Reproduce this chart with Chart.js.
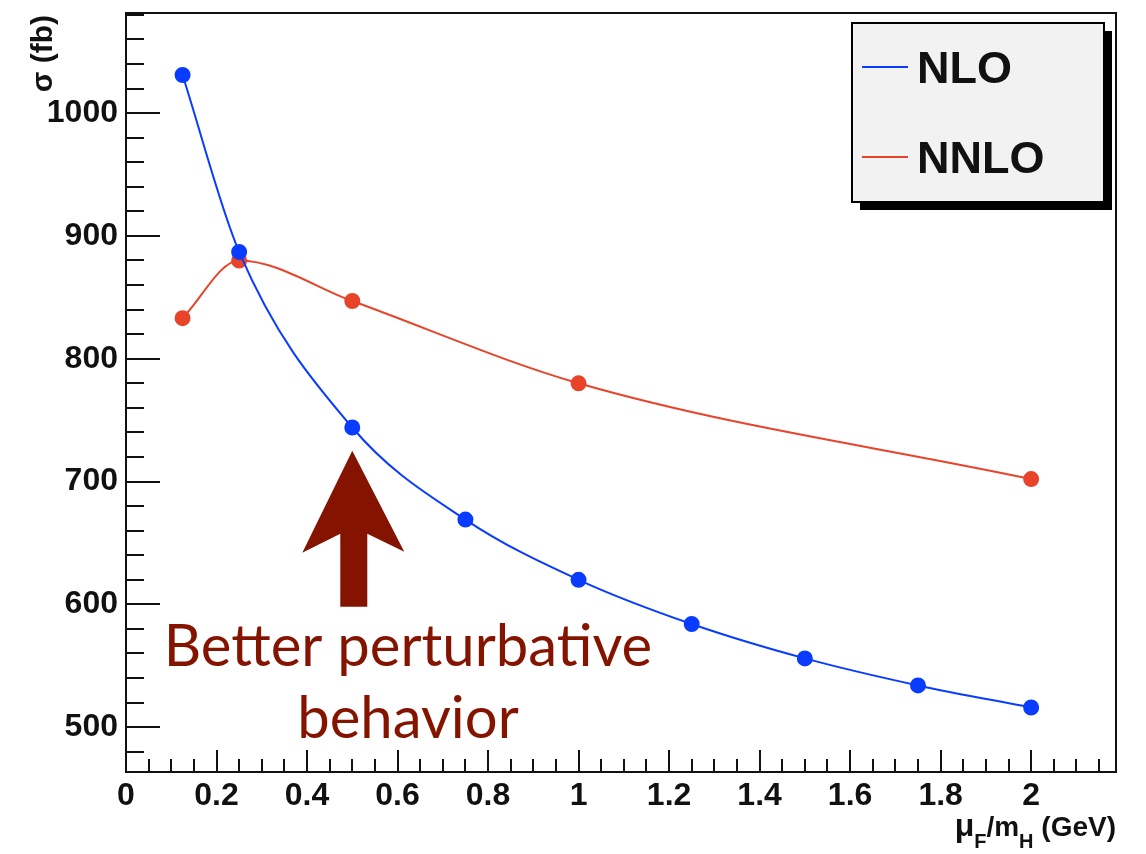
<!DOCTYPE html>
<html>
<head>
<meta charset="utf-8">
<script src="https://cdn.jsdelivr.net/npm/chart.js@4/dist/chart.umd.min.js"></script>
<style>
  html, body { margin: 0; padding: 0; background: #fff; }
  #wrap { width: 1146px; height: 854px; }
</style>
</head>
<body>
<div id="wrap"><canvas id="xsecChart" width="1146" height="854"></canvas></div>
<script>
// ข้อมูลที่อ่านจากกราฟ
const NLO_X = [0.125, 0.25, 0.5, 0.75, 1, 1.25, 1.5, 1.75, 2];
const NLO_Y = [1031, 887, 744, 669, 620, 584, 556, 534, 516];
const NNLO_X = [0.125, 0.25, 0.5, 1, 2];
const NNLO_Y = [833, 880, 847, 780, 702];
const SERIES_LABELS = ['NLO', 'NNLO'];
const SERIES_COLORS = ['#0a3cff', '#e8442a'];
const X_RANGE = [0, 2.1875];
const Y_RANGE = [463.5, 1081.5];
const ARROW_TIP = { x: 0.5, y: 725 };
const NOTE_LINES = ['Better perturbative', 'behavior'];

const LABEL_FONT = '"Liberation Sans", Arial, sans-serif';

function toPoints(xs, ys) { return xs.map((x, i) => ({ x: x, y: ys[i] })); }

// --- วาดกรอบ, ขีดสเกล, legend, ลูกศร ---
const decorPlugin = {
    id: 'decor',
    afterDraw(chart) {
        const ctx = chart.ctx;
        const area = chart.chartArea;
        const xs = chart.scales.x, ys = chart.scales.y;
        ctx.save();

        // frame
        ctx.strokeStyle = '#111';
        ctx.lineWidth = 2;
        ctx.strokeRect(area.left, area.top, area.right - area.left, area.bottom - area.top);

        // x ticks (inward)
        ctx.beginPath();
        for (let i = 0; i * 0.05 <= X_RANGE[1] + 1e-9; i++) {
            const px = Math.round(xs.getPixelForValue(i * 0.05));
            const len = (i % 4 === 0) ? 22 : 13;
            ctx.moveTo(px, area.bottom);
            ctx.lineTo(px, area.bottom - len);
        }
        // y ticks (inward)
        for (let v = 480; v <= Y_RANGE[1]; v += 20) {
            const py = Math.round(ys.getPixelForValue(v));
            const len = (v % 100 === 0) ? 34 : 18;
            ctx.moveTo(area.left, py);
            ctx.lineTo(area.left + len, py);
        }
        ctx.stroke();

        // axis titles
        ctx.fillStyle = '#111';
        ctx.textBaseline = 'alphabetic';
        const big = 'bold 28px ' + LABEL_FONT;
        const small = 'bold 20px ' + LABEL_FONT;
        const parts = [['\u03bc', 'bold 32px ' + LABEL_FONT, 0], ['F', small, 12], ['/m', big, 0], ['H', small, 12], [' (GeV)', big, 0]];
        let total = 0;
        parts.forEach(p => { ctx.font = p[1]; total += ctx.measureText(p[0]).width; });
        let tx = area.right - total;
        const tb = 836;
        ctx.textAlign = 'left';
        parts.forEach(p => {
            ctx.font = p[1];
            ctx.fillText(p[0], tx, tb + p[2]);
            tx += ctx.measureText(p[0]).width;
        });

        ctx.save();
        ctx.translate(52, 15);
        ctx.rotate(-Math.PI / 2);
        ctx.textAlign = 'right';
        ctx.font = 'bold 30px ' + LABEL_FONT;
        ctx.fillText('\u03c3 (fb)', 0, 0);
        ctx.restore();

        // legend box with shadow
        ctx.fillStyle = '#000';
        ctx.fillRect(860, 31, 252, 179);
        ctx.fillStyle = '#f2f2f2';
        ctx.fillRect(852, 23, 252, 179);
        ctx.strokeStyle = '#000';
        ctx.lineWidth = 2;
        ctx.strokeRect(852, 23, 252, 179);
        ctx.font = 'bold 45px ' + LABEL_FONT;
        ctx.textAlign = 'left';
        const rows = [67, 157];
        chart.data.datasets.forEach((ds, i) => {
            ctx.strokeStyle = ds.borderColor;
            ctx.lineWidth = 2;
            ctx.beginPath();
            ctx.moveTo(862, rows[i]);
            ctx.lineTo(908, rows[i]);
            ctx.stroke();
            ctx.fillStyle = '#111';
            ctx.fillText(ds.label, 917, rows[i] + 16);
        });

        // arrow
        const ax = xs.getPixelForValue(ARROW_TIP.x);
        const ay = ys.getPixelForValue(ARROW_TIP.y);
        ctx.fillStyle = '#841400';
        ctx.beginPath();
        ctx.moveTo(ax, ay);
        ctx.lineTo(ax + 52, ay + 101);
        ctx.lineTo(ax + 15, ay + 83);
        ctx.lineTo(ax + 15, ay + 156);
        ctx.lineTo(ax - 12, ay + 156);
        ctx.lineTo(ax - 12, ay + 83);
        ctx.lineTo(ax - 50, ay + 102);
        ctx.closePath();
        ctx.fill();

        // annotation text
        ctx.font = '58px Lato, "Open Sans", sans-serif';
        ctx.textAlign = 'center';
        ctx.fillText(NOTE_LINES[0], 408, 666);
        ctx.fillText(NOTE_LINES[1], 408, 738);

        ctx.restore();
    }
};

new Chart(document.getElementById('xsecChart'), {
    type: 'scatter',
    data: {
        datasets: [
            { label: SERIES_LABELS[0], data: toPoints(NLO_X, NLO_Y) },
            { label: SERIES_LABELS[1], data: toPoints(NNLO_X, NNLO_Y) }
        ].map((ds, i) => Object.assign(ds, {
            showLine: true,
            cubicInterpolationMode: 'monotone',
            borderColor: SERIES_COLORS[i],
            backgroundColor: SERIES_COLORS[i],
            borderWidth: 2,
            pointRadius: 7,
            pointHoverRadius: 7
        }))
    },
    options: {
        responsive: false,
        animation: false,
        layout: { padding: { top: 13, right: 30, left: 0, bottom: 0 } },
        plugins: { legend: { display: false }, tooltip: { enabled: false } },
        scales: {
            x: {
                type: 'linear', min: X_RANGE[0], max: X_RANGE[1],
                grid: { display: false, drawTicks: false }, border: { display: false },
                ticks: {
                    stepSize: 0.2, includeBounds: false, padding: 5,
                    color: '#111', font: { family: LABEL_FONT, size: 32, weight: 'bold' },
                    maxRotation: 0, autoSkip: false,
                    callback: v => String(Number(v.toFixed(1)))
                },
                afterFit: s => { s.height = 82; s.paddingLeft = 0; s.paddingRight = 0; }
            },
            y: {
                type: 'linear', min: Y_RANGE[0], max: Y_RANGE[1],
                grid: { display: false, drawTicks: false }, border: { display: false },
                ticks: {
                    stepSize: 100, includeBounds: false, padding: 8,
                    color: '#111', font: { family: LABEL_FONT, size: 32, weight: 'bold' },
                    callback: v => String(v)
                },
                afterFit: s => { s.width = 126; s.paddingTop = 0; s.paddingBottom = 0; }
            }
        }
    },
    plugins: [decorPlugin]
});
</script>
</body>
</html>
